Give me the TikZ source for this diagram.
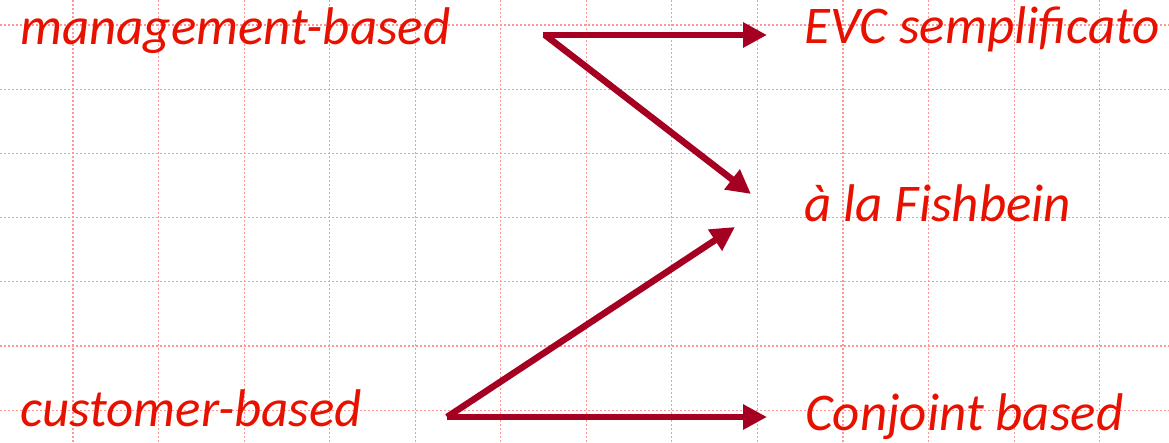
\documentclass[tikz,border=0pt]{standalone}
\usepackage{fontspec}
\setmainfont{Carlito}
\usetikzlibrary{arrows.meta}
\definecolor{txtred}{RGB}{232,17,0}
\definecolor{arrred}{RGB}{165,0,33}
\definecolor{gridpink}{RGB}{255,150,150}
\tikzset{
  lbl/.style={anchor=base west,inner sep=0pt,text=txtred,font=\fontsize{53}{60}\selectfont\itshape},
  conn/.style={draw=arrred,line width=6.5pt,-{Triangle[length=24pt,width=24pt]}},
  gridline/.style={draw=gridpink,line width=1.1pt,dash pattern=on 2pt off 2pt}
}
\begin{document}
\begin{tikzpicture}[x=1pt,y=-1pt]
\fill[white] (0,0) rectangle (1169,443);
\useasboundingbox (0,0) rectangle (1169,443);
\foreach \k in {0,...,12} {
  \draw[gridline] ({73+85.55*\k},0) -- ({73+85.55*\k},443);
}
\foreach \k in {0,...,6} {
  \draw[gridline] (0,{25+64.2*\k}) -- (1169,{25+64.2*\k});
}
\node[lbl] (mb) at (20,45) {management-based};
\node[lbl] (cb) at (20,426) {customer-based};
\node[lbl] (evc) at (804,44) {EVC semplificato};
\node[lbl] (fish) at (804,222) {à la Fishbein};
\node[lbl] (conj) at (805,430) {Conjoint based};
\coordinate (mstart) at (543,35);
\coordinate (cstart) at (447,417);
\coordinate (evcend) at (767,35);
\coordinate (fishin1) at (751,194);
\coordinate (fishin2) at (735,227);
\coordinate (conjend) at (767,417);
\draw[conn] (mstart) -- (evcend);
\draw[conn] ([xshift=2pt]mstart) -- (fishin1);
\draw[conn] (cstart) -- (fishin2);
\draw[conn] (cstart) -- (conjend);
\end{tikzpicture}
\end{document}
